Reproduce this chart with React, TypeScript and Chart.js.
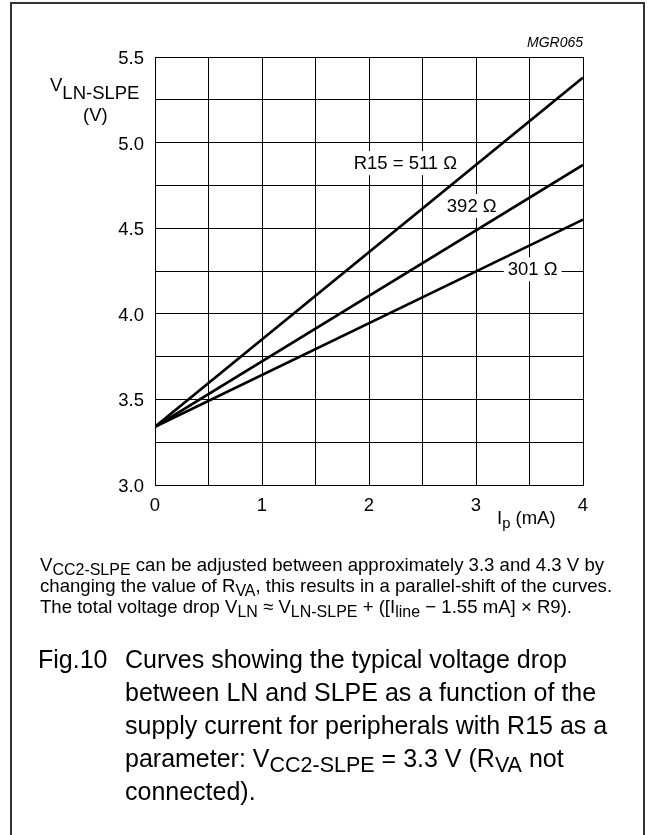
import React, { useEffect, useRef } from "react";
import { Chart, registerables } from "chart.js";

Chart.register(...registerables);

// ---- data ----
const IP_MA = [0, 4];
const V_R511 = [3.34, 5.38];
const V_R392 = [3.34, 4.87];
const V_R301 = [3.34, 4.55];
const CURVE_LABELS = ["R15 = 511 \u03A9", "392 \u03A9", "301 \u03A9"];
const LABEL_X = [2.34, 2.96, 3.53];
const LABEL_Y = [4.88, 4.63, 4.26];
const X_MIN = 0;
const X_MAX = 4;
const Y_MIN = 3.0;
const Y_MAX = 5.5;
const X_STEP = 0.5;
const Y_STEP = 0.25;

const FONT = '"Liberation Sans", Arial, Helvetica, sans-serif';

const curveLabelPlugin = {
  id: "curveLabels",
  beforeDatasetsDraw(chart: any) {
    const { ctx, scales } = chart;
    ctx.save();
    ctx.font = `18.5px ${FONT}`;
    ctx.textAlign = "center";
    ctx.textBaseline = "middle";
    CURVE_LABELS.forEach((t, i) => {
      const px = scales.x.getPixelForValue(LABEL_X[i]);
      const py = scales.y.getPixelForValue(LABEL_Y[i]);
      const w = ctx.measureText(t).width;
      ctx.fillStyle = "#ffffff";
      ctx.fillRect(px - w / 2 - 4, py - 12, w + 8, 24);
      ctx.fillStyle = "#000000";
      ctx.fillText(t, px, py + 1);
    });
    ctx.restore();
  },
};

function Sub({ children, size = "0.86em", drop = "-0.25em" }: any) {
  return (
    <span style={{ fontSize: size, verticalAlign: drop, lineHeight: 0 }}>{children}</span>
  );
}

export default function App() {
  const canvasRef = useRef<HTMLCanvasElement | null>(null);

  useEffect(() => {
    if (!canvasRef.current) return;
    const mk = (ys: number[]) => IP_MA.map((x, i) => ({ x, y: ys[i] }));
    const lineStyle = {
      borderColor: "#000000",
      borderWidth: 2.6,
      pointRadius: 0,
      fill: false,
      tension: 0,
    };
    const chart = new Chart(canvasRef.current, {
      type: "line",
      data: {
        datasets: [
          { label: "511", data: mk(V_R511), ...lineStyle },
          { label: "392", data: mk(V_R392), ...lineStyle },
          { label: "301", data: mk(V_R301), ...lineStyle },
        ],
      },
      options: {
        responsive: false,
        animation: false,
        devicePixelRatio: 1,
        layout: { padding: { left: 0, top: 57, right: 70, bottom: 310 } },
        plugins: { legend: { display: false }, tooltip: { enabled: false } },
        scales: {
          x: {
            type: "linear",
            min: X_MIN,
            max: X_MAX,
            afterFit: (s: any) => {
              s.height = 40;
            },
            ticks: {
              stepSize: X_STEP,
              padding: 10,
              color: "#000",
              font: { family: FONT, size: 18.5 },
              maxRotation: 0,
              callback: (v: any) => (Number.isInteger(Number(v)) ? String(v) : ""),
            },
            grid: { color: "#000", lineWidth: 1, drawTicks: false },
            border: { display: true, color: "#000", width: 1 },
          },
          y: {
            type: "linear",
            min: Y_MIN,
            max: Y_MAX,
            afterFit: (s: any) => {
              s.width = 155;
            },
            ticks: {
              stepSize: Y_STEP,
              padding: 11,
              labelOffset: 2,
              color: "#000",
              font: { family: FONT, size: 18.5 },
              callback: (v: any) => {
                const n = Number(v);
                return Math.abs(n * 2 - Math.round(n * 2)) < 1e-6 ? n.toFixed(1) : "";
              },
            },
            grid: { color: "#000", lineWidth: 1, drawTicks: false },
            border: { display: true, color: "#000", width: 1 },
          },
        },
      },
      plugins: [curveLabelPlugin],
    });
    return () => chart.destroy();
  }, []);

  const abs = (extra: any) => ({ position: "absolute" as const, whiteSpace: "nowrap" as const, ...extra });

  return (
    <div
      style={{
        position: "fixed",
        left: 0,
        top: 0,
        width: 653,
        height: 835,
        overflow: "hidden",
        background: "#fff",
        fontFamily: FONT,
        color: "#000",
      }}
    >
      <div
        style={{
          position: "absolute",
          left: 10,
          top: 2,
          width: 631,
          height: 900,
          border: "2px solid #333",
        }}
      />
      <canvas
        ref={canvasRef}
        width={653}
        height={835}
        style={{ position: "absolute", left: 0, top: 0, width: 653, height: 835 }}
      />
      {/* figure id */}
      <div style={abs({ right: 70, top: 35, fontSize: 14, lineHeight: "14px", fontStyle: "italic" })}>MGR065</div>
      {/* y axis title */}
      <div style={abs({ left: 50, top: 76, fontSize: 18.5, lineHeight: "18.5px" })}>
        V<span style={{ position: "relative", top: 8 }}>LN-SLPE</span>
      </div>
      <div style={abs({ left: 83, top: 106, fontSize: 18.5, lineHeight: "18.5px" })}>(V)</div>
      {/* x axis title */}
      <div style={abs({ left: 497, top: 509, fontSize: 18.5, lineHeight: "18.5px" })}>
        I<Sub size="0.8em" drop="-0.3em">p</Sub> (mA)
      </div>
      {/* small note */}
      <div style={abs({ left: 40, top: 554, fontSize: 18.6, lineHeight: "21px" })}>
        <div>
          V<Sub>CC2-SLPE</Sub> can be adjusted between approximately 3.3 and 4.3 V by
        </div>
        <div>
          changing the value of R<Sub>VA</Sub>, this results in a parallel-shift of the curves.
        </div>
        <div>
          The total voltage drop V<Sub>LN</Sub> {"\u2248"} V<Sub>LN-SLPE</Sub> + ([I<Sub>line</Sub> {"\u2212"} 1.55 mA] {"\u00D7"} R9).
        </div>
      </div>
      {/* figure caption */}
      <div style={abs({ left: 38, top: 643, fontSize: 25, lineHeight: "33px" })}>Fig.10</div>
      <div style={abs({ left: 125, top: 643, fontSize: 25, lineHeight: "33px" })}>
        <div>Curves showing the typical voltage drop</div>
        <div>between LN and SLPE as a function of the</div>
        <div>supply current for peripherals with R15 as a</div>
        <div>
          parameter: V<Sub>CC2-SLPE</Sub> = 3.3 V (R<Sub>VA</Sub> not
        </div>
        <div>connected).</div>
      </div>
    </div>
  );
}
